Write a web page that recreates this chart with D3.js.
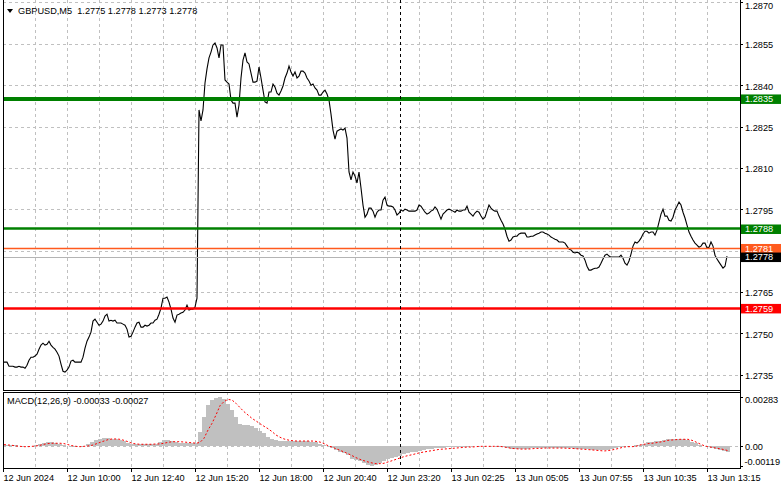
<!DOCTYPE html>
<html>
<head>
<meta charset="utf-8">
<style>
  body { margin: 0; background: #fff; }
  svg text { font-family: "Liberation Sans", Arial, sans-serif; font-size: 9.2px; white-space: pre; }
</style>
</head>
<body>
<svg id="chart" width="781" height="489"></svg>
<script src="https://cdn.jsdelivr.net/npm/d3@7"></script>
<script>
// ---- data ----
const symbolTitle = "GBPUSD,M5  1.2775 1.2778 1.2773 1.2778";
const macdTitle = "MACD(12,26,9) -0.00033 -0.00027";

// M5 closes, one per bar
const closes = [
  1.27395,1.27395,1.27395,1.27380,1.27380,1.27380,1.27377,1.27377,1.27380,1.27377,
  1.27377,1.27373,1.27384,1.27402,1.27413,1.27413,1.27417,1.27424,1.27442,1.27457,
  1.27464,1.27457,1.27460,1.27471,1.27457,1.27449,1.27442,1.27431,1.27417,1.27388,
  1.27362,1.27359,1.27366,1.27377,1.27399,1.27402,1.27395,1.27395,1.27395,1.27395,
  1.27413,1.27446,1.27471,1.27486,1.27504,1.27544,1.27551,1.27540,1.27529,1.27533,
  1.27544,1.27562,1.27569,1.27544,1.27547,1.27544,1.27547,1.27537,1.27537,1.27537,
  1.27533,1.27529,1.27515,1.27486,1.27489,1.27504,1.27522,1.27537,1.27540,1.27522,
  1.27522,1.27529,1.27526,1.27529,1.27537,1.27537,1.27547,1.27551,1.27569,1.27591,
  1.27627,1.27627,1.27631,1.27613,1.27587,1.27555,1.27540,1.27566,1.27569,1.27573,
  1.27576,1.27584,1.27602,1.27584,1.27587,1.27587,1.27595,1.27627,1.28310,1.28270,
  1.28310,1.28408,1.28459,1.28499,1.28520,1.28546,1.28553,1.28535,1.28499,1.28546,
  1.28546,1.28419,1.28411,1.28404,1.28346,1.28335,1.28335,1.28284,1.28328,1.28426,
  1.28491,1.28517,1.28484,1.28477,1.28444,1.28411,1.28411,1.28415,1.28466,1.28426,
  1.28382,1.28339,1.28335,1.28375,1.28375,1.28404,1.28393,1.28371,1.28364,1.28379,
  1.28397,1.28426,1.28444,1.28469,1.28448,1.28433,1.28448,1.28426,1.28433,1.28451,
  1.28451,1.28444,1.28426,1.28415,1.28400,1.28404,1.28390,1.28382,1.28364,1.28364,
  1.28375,1.28382,1.28368,1.28346,1.28295,1.28237,1.28204,1.28233,1.28237,1.28241,
  1.28237,1.28244,1.28208,1.28085,1.28056,1.28085,1.28070,1.28045,1.28085,1.28027,
  1.27965,1.27921,1.27932,1.27954,1.27954,1.27943,1.27921,1.27939,1.27947,1.27947,
  1.27983,1.27994,1.27965,1.27961,1.27961,1.27958,1.27947,1.27929,1.27936,1.27947,
  1.27943,1.27950,1.27947,1.27943,1.27943,1.27943,1.27943,1.27947,1.27965,1.27961,
  1.27950,1.27939,1.27932,1.27936,1.27943,1.27947,1.27958,1.27950,1.27932,1.27914,
  1.27932,1.27939,1.27947,1.27950,1.27947,1.27943,1.27939,1.27947,1.27943,1.27943,
  1.27947,1.27947,1.27961,1.27939,1.27932,1.27925,1.27936,1.27943,1.27939,1.27925,
  1.27914,1.27921,1.27943,1.27965,1.27954,1.27947,1.27943,1.27943,1.27925,1.27910,
  1.27896,1.27878,1.27852,1.27834,1.27838,1.27849,1.27852,1.27852,1.27860,1.27863,
  1.27863,1.27863,1.27849,1.27849,1.27852,1.27852,1.27856,1.27860,1.27863,1.27867,
  1.27867,1.27863,1.27860,1.27856,1.27849,1.27845,1.27841,1.27838,1.27831,1.27831,
  1.27831,1.27827,1.27816,1.27805,1.27802,1.27794,1.27791,1.27794,1.27791,1.27783,
  1.27780,1.27765,1.27743,1.27729,1.27729,1.27733,1.27736,1.27736,1.27740,1.27754,
  1.27769,1.27783,1.27787,1.27780,1.27776,1.27776,1.27776,1.27776,1.27776,1.27783,
  1.27772,1.27754,1.27747,1.27762,1.27787,1.27816,1.27831,1.27827,1.27834,1.27845,
  1.27860,1.27870,1.27870,1.27863,1.27867,1.27867,1.27856,1.27874,1.27903,1.27932,
  1.27950,1.27925,1.27925,1.27910,1.27907,1.27921,1.27947,1.27961,1.27976,1.27965,
  1.27939,1.27918,1.27892,1.27867,1.27852,1.27838,1.27827,1.27820,1.27812,1.27816,
  1.27827,1.27827,1.27809,1.27812,1.27831,1.27816,1.27783,1.27769,1.27758,1.27747,
  1.27736,1.27743,1.27780
];

// MACD main (histogram) and signal, one value per two bars
const macdMain = [
  0.00006,0.00008,0.00006,0.00004,0,-0.00002,-0.00002,0,0.00006,0.00012,
  0.00018,0.00021,0.00021,0.00019,0.00014,0.00004,-0.00002,-0.00004,-0.00004,-0.00002,
  0.00002,0.00014,0.00025,0.00037,0.00043,0.00045,0.00045,0.00043,0.00041,0.00037,
  0.00029,0.00018,0.00010,0.00010,0.00010,0.00010,0.00010,0.00012,0.00014,0.00021,
  0.00033,0.00035,0.00029,0.00021,0.00018,0.00016,0.00016,0.00016,0.00016,0.00084,
  0.00171,0.00239,0.00268,0.00280,0.00283,0.00274,0.00243,0.00210,0.00171,0.00126,
  0.00123,0.00123,0.00119,0.00103,0.00088,0.00076,0.00054,0.00041,0.00033,0.00029,
  0.00029,0.00029,0.00029,0.00029,0.00029,0.00029,0.00029,0.00025,0.00021,0.00014,
  0.00006,-0.00002,-0.00014,-0.00025,-0.00033,-0.00039,-0.00053,-0.00076,-0.00084,-0.00088,
  -0.00098,-0.00108,-0.00116,-0.00112,-0.00102,-0.00090,-0.00074,-0.00070,-0.00064,-0.00056,
  -0.00049,-0.00043,-0.00037,-0.00033,-0.00027,-0.00023,-0.00019,-0.00016,-0.00014,-0.00012,
  -0.00010,-0.00008,-0.00006,-0.00006,-0.00004,-0.00004,-0.00004,-0.00002,-0.00002,-0.00002,
  0,0,0,0,-0.00004,-0.00008,-0.00012,-0.00016,-0.00018,-0.00018,
  -0.00018,-0.00016,-0.00014,-0.00012,-0.00010,-0.00010,-0.00010,-0.00010,-0.00010,-0.00010,
  -0.00012,-0.00014,-0.00014,-0.00016,-0.00018,-0.00018,-0.00019,-0.00023,-0.00025,-0.00025,
  -0.00023,-0.00021,-0.00018,-0.00012,-0.00006,-0.00004,-0.00002,0,0.00004,0.00008,
  0.00014,0.00021,0.00025,0.00027,0.00031,0.00035,0.00039,0.00041,0.00041,0.00041,
  0.00039,0.00033,0.00025,0.00016,0.00006,-0.00002,-0.00006,-0.00010,-0.00016,-0.00021,
  -0.00027,-0.00033
];
const macdSignal = [
  0.00008,0.00006,0.00004,0,-0.00002,-0.00004,-0.00004,-0.00002,0,0.00004,
  0.00010,0.00014,0.00016,0.00016,0.00016,0.00014,0.00008,0.00002,-0.00002,-0.00004,
  -0.00002,0,0.00004,0.00012,0.00021,0.00029,0.00037,0.00041,0.00041,0.00039,
  0.00033,0.00025,0.00016,0.00012,0.00010,0.00010,0.00010,0.00010,0.00012,0.00012,
  0.00016,0.00021,0.00025,0.00025,0.00025,0.00023,0.00021,0.00019,0.00016,0.00021,
  0.00045,0.00093,0.00132,0.00181,0.00235,0.00259,0.00272,0.00268,0.00249,0.00224,
  0.00200,0.00181,0.00161,0.00146,0.00130,0.00115,0.00101,0.00084,0.00064,0.00051,
  0.00041,0.00035,0.00031,0.00029,0.00029,0.00029,0.00029,0.00029,0.00027,0.00023,
  0.00014,0.00002,-0.00006,-0.00016,-0.00025,-0.00035,-0.00045,-0.00056,-0.00068,-0.00078,
  -0.00086,-0.00093,-0.00099,-0.00103,-0.00103,-0.00101,-0.00093,-0.00086,-0.00078,-0.00070,
  -0.00062,-0.00056,-0.00051,-0.00045,-0.00039,-0.00035,-0.00031,-0.00027,-0.00023,-0.00019,
  -0.00018,-0.00016,-0.00014,-0.00012,-0.00010,-0.00008,-0.00006,-0.00006,-0.00004,-0.00002,
  -0.00002,-0.00002,-0.00002,-0.00002,-0.00002,-0.00006,-0.00010,-0.00014,-0.00016,-0.00018,
  -0.00018,-0.00018,-0.00016,-0.00014,-0.00014,-0.00012,-0.00012,-0.00012,-0.00012,-0.00012,
  -0.00012,-0.00014,-0.00014,-0.00016,-0.00018,-0.00019,-0.00021,-0.00023,-0.00025,-0.00027,
  -0.00029,-0.00027,-0.00023,-0.00018,-0.00012,-0.00006,-0.00004,-0.00004,-0.00002,0.00006,
  0.00010,0.00014,0.00016,0.00019,0.00023,0.00027,0.00033,0.00035,0.00037,0.00039,
  0.00039,0.00039,0.00033,0.00023,0.00012,0.00002,-0.00004,-0.00008,-0.00012,-0.00016,
  -0.00021,-0.00027
];

const priceTicks = [1.2870, 1.2855, 1.2840, 1.2825, 1.2810, 1.2795, 1.2780, 1.2765, 1.2750, 1.2735];
const hiddenTick = 1.2780;               // covered by the bid/ask tags
const macdTicks = [0.00283, 0, -0.00119];
const macdTickText = ["0.00283", "0.00", "-0.00119"];
const timeLabels = ["12 Jun 2024", "12 Jun 10:00", "12 Jun 12:40", "12 Jun 15:20", "12 Jun 18:00",
  "12 Jun 20:40", "12 Jun 23:20", "13 Jun 02:25", "13 Jun 05:05", "13 Jun 07:55",
  "13 Jun 10:35", "13 Jun 13:15"];
const levelPrices = [1.2835, 1.2788, 1.2759];
const askPrice = 1.2781, bidPrice = 1.2778;
const separatorBar = 198.5;

// ---- layout ----
const svg = d3.select("#chart");
const left = 3, right = 740;
const mainTop = 0, mainBottom = 390, macdTop = 392, macdBottom = 468;
const barsPerLabel = 32, barsPerGrid = 16;
const capHalf = 3.3;   // half the digit height, to centre text on a y

let x = d3.scaleLinear().domain([0, closes.length - 1]).range([3, 3 + 2 * (closes.length - 1)]);
let y = d3.scaleLinear().domain([1.27294, 1.28709]).range([mainBottom, 0]);
let ym = d3.scaleLinear().domain([-0.001284, 0.00315]).range([macdBottom, macdTop]);

svg.append("rect").attr("width", 781).attr("height", 489).attr("fill", "#fff");

let defs = svg.append("defs");
defs.append("clipPath").attr("id", "clipMain").append("rect")
  .attr("x", left).attr("y", mainTop).attr("width", right - left).attr("height", mainBottom - mainTop);
defs.append("clipPath").attr("id", "clipMacd").append("rect")
  .attr("x", left).attr("y", macdTop).attr("width", right - left).attr("height", macdBottom - macdTop);

// grid
let grid = svg.append("g").attr("stroke", "#c0c0c0").attr("stroke-dasharray", "3,3").attr("shape-rendering", "crispEdges");
for (let b = barsPerGrid; x(b) < right - 2; b += barsPerGrid) {
  let gx = Math.round(x(b)) + 0.5;
  grid.append("line").attr("x1", gx).attr("x2", gx).attr("y1", mainTop).attr("y2", mainBottom);
  grid.append("line").attr("x1", gx).attr("x2", gx).attr("y1", macdTop).attr("y2", macdBottom);
}
priceTicks.forEach(p => {
  let gy = Math.round(y(p)) + 0.5;
  grid.append("line").attr("x1", left).attr("x2", right).attr("y1", gy).attr("y2", gy);
});
let zy = Math.round(ym(0)) + 0.5;
grid.append("line").attr("x1", left).attr("x2", right).attr("y1", zy).attr("y2", zy);

// MACD histogram + signal
let macdG = svg.append("g").attr("clip-path", "url(#clipMacd)");
macdG.selectAll("rect.h").data(macdMain).join("rect")
  .attr("x", (d, k) => x(2 * k) - 1)
  .attr("width", 4)
  .attr("y", d => ym(Math.max(d, 0)))
  .attr("height", d => Math.abs(ym(d) - ym(0)))
  .attr("fill", "#c0c0c0")
  .attr("shape-rendering", "crispEdges");
macdG.append("path")
  .attr("d", d3.line().x((d, k) => x(2 * k) + 1).y(d => ym(d))(macdSignal))
  .attr("fill", "none").attr("stroke", "#ff0000").attr("stroke-width", 1).attr("stroke-dasharray", "2,2");

// price line
let mainG = svg.append("g").attr("clip-path", "url(#clipMain)");
mainG.append("path")
  .attr("d", d3.line().x((d, i) => x(i)).y(d => y(d))(closes))
  .attr("fill", "none").attr("stroke", "#000").attr("stroke-width", 1.1);

// bid / ask lines
let askY = y(askPrice) + 0.7, bidY = y(bidPrice) + 1;
mainG.append("line").attr("x1", left).attr("x2", right).attr("y1", askY).attr("y2", askY)
  .attr("stroke", "#ff5a1e").attr("stroke-width", 1.6);
mainG.append("line").attr("x1", left).attr("x2", right).attr("y1", Math.round(bidY) + 0.5).attr("y2", Math.round(bidY) + 0.5)
  .attr("stroke", "#b4b4b4").attr("stroke-width", 1);

// horizontal levels
const levelColor = ["#008000", "#008000", "#ff0000"];
const levelWidth = [4, 2.5, 2.5];
levelPrices.forEach((p, i) => {
  mainG.append("line").attr("x1", left).attr("x2", right).attr("y1", y(p)).attr("y2", y(p))
    .attr("stroke", levelColor[i]).attr("stroke-width", levelWidth[i]);
});

// separator
svg.append("line").attr("x1", x(separatorBar)).attr("x2", x(separatorBar))
  .attr("y1", mainTop).attr("y2", macdBottom)
  .attr("stroke", "#000").attr("stroke-dasharray", "3,3").attr("shape-rendering", "crispEdges");

// frames (no top edge on the main pane)
let frame = svg.append("g").attr("fill", "none").attr("stroke", "#000").attr("shape-rendering", "crispEdges");
frame.append("path").attr("d", `M${left + 0.5},0 V${mainBottom + 0.5} H${right + 0.5}`);
frame.append("rect").attr("x", left + 0.5).attr("y", macdTop + 0.5).attr("width", right - left).attr("height", macdBottom - macdTop);
frame.append("line").attr("x1", right + 0.5).attr("x2", right + 0.5).attr("y1", 0).attr("y2", macdBottom + 1);

// price axis
let axisG = svg.append("g");
priceTicks.filter(p => p !== hiddenTick).forEach(p => {
  let ty = Math.round(y(p)) + 0.5;
  axisG.append("line").attr("x1", right).attr("x2", right + 3).attr("y1", ty).attr("y2", ty)
    .attr("stroke", "#000").attr("shape-rendering", "crispEdges");
  axisG.append("text").attr("x", right + 5).attr("y", Math.max(y(p) + 1.3, 5.5) + capHalf)
    .attr("fill", "#000").text(p.toFixed(4));
});

// level / bid / ask tags
const tagPrices = [levelPrices[0], levelPrices[1], levelPrices[2], askPrice, bidPrice];
const tagShift = [0, 0.5, 0, 0.7, 1];
const tagFill = ["#008000", "#008000", "#ff0000", "#ff5a1e", "#000000"];
tagPrices.forEach((p, i) => {
  let cy = y(p) + tagShift[i];
  axisG.append("rect").attr("x", right + 1).attr("y", cy - 4.5).attr("width", 40).attr("height", 9.5)
    .attr("fill", tagFill[i]);
  axisG.append("text").attr("x", right + 5).attr("y", cy + capHalf)
    .attr("fill", "#fff").text(p.toFixed(4));
});

// MACD axis
macdTicks.forEach((v, i) => {
  let ty = Math.round(ym(v)) + 0.5;
  axisG.append("line").attr("x1", right).attr("x2", right + 3).attr("y1", ty).attr("y2", ty)
    .attr("stroke", "#000").attr("shape-rendering", "crispEdges");
  let t = axisG.append("text").attr("y", Math.min(Math.max(ym(v) + 1.2, macdTop + 8), macdBottom - 6) + capHalf)
    .attr("fill", "#000").text(macdTickText[i]);
  let w = t.node().getComputedTextLength();
  t.attr("x", Math.min(right + 5, 780 - w));
});

// time axis
timeLabels.forEach((t, j) => {
  let tx = Math.round(x(j * barsPerLabel)) + 0.5;
  axisG.append("line").attr("x1", tx).attr("x2", tx).attr("y1", macdBottom).attr("y2", macdBottom + 4)
    .attr("stroke", "#000").attr("shape-rendering", "crispEdges");
  axisG.append("text").attr("x", tx).attr("y", 477.5 + capHalf)
    .attr("fill", "#000").text(t);
});

// titles
svg.append("path").attr("d", "M7,9 L13,9 L10,13 Z").attr("fill", "#000");
svg.append("text").attr("x", 18).attr("y", 10.7 + capHalf).attr("fill", "#000").text(symbolTitle);
svg.append("text").attr("x", 7).attr("y", 401 + capHalf).attr("fill", "#000").text(macdTitle);
</script>
</body>
</html>
